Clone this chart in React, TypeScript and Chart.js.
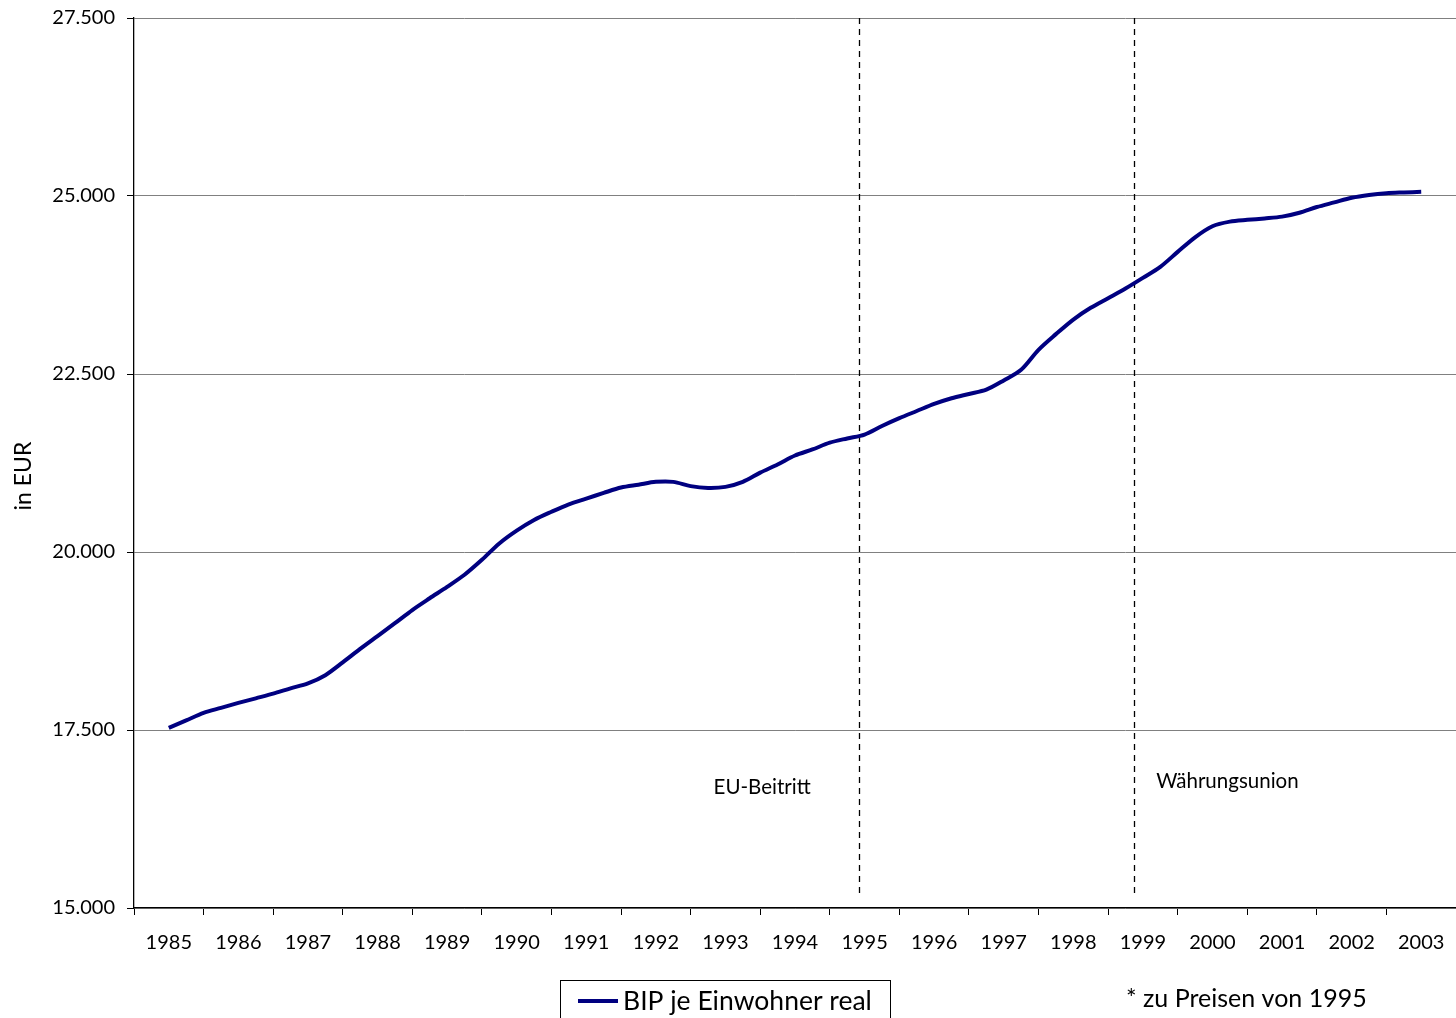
import React, { useEffect, useRef } from 'react';
import { Chart, registerables } from 'chart.js';

Chart.register(...registerables);

// ---- data ----
const years = ['1985', '1986', '1987', '1988', '1989', '1990', '1991', '1992', '1993', '1994',
  '1995', '1996', '1997', '1998', '1999', '2000', '2001', '2002', '2003'];

// quarterly readings from 1985 to 2003 (4 per year, starting at 1985)
const quarterlyValues = [
  17530, 17635, 17740, 17810, 17880, 17945, 18010, 18085, 18155, 18270,
  18450, 18640, 18820, 19000, 19185, 19350, 19510, 19680, 19890, 20120,
  20300, 20450, 20565, 20670, 20750, 20830, 20905, 20945, 20985, 20985,
  20925, 20900, 20915, 20985, 21115, 21230, 21355, 21440, 21535, 21595,
  21650, 21770, 21880, 21980, 22080, 22160, 22220, 22280, 22410, 22560,
  22840, 23060, 23265, 23430, 23565, 23700, 23850, 24005, 24215, 24420,
  24575, 24640, 24665, 24685, 24710, 24765, 24845, 24910, 24975, 25015,
  25040, 25050, 25058,
];
const pointsPerYear = 4;

const yMin = 15000;
const yMax = 27500;
const yStep = 2500;

const seriesLabel = 'BIP je Einwohner real';
const yTitle = 'in EUR';
const footnote = '* zu Preisen von 1995';

// events: position in year-index units (0 = 1985)
const eventLabels = ['EU-Beitritt', 'Währungsunion'];
const eventPositions = [9.915, 13.875];
const eventLabelValues = [16700, 16780];

const FONT = 'Lato, "Open Sans", sans-serif';
const NAVY = '#000080';

function fmt(v: number): string {
  const s = Math.round(v).toString();
  return s.replace(/\B(?=(\d{3})+(?!\d))/g, '.');
}

const decorPlugin = {
  id: 'decor',
  beforeDatasetsDraw(chart: any) {
    const ctx = chart.ctx;
    const xs = chart.scales.x2;
    const area = chart.chartArea;
    ctx.save();
    ctx.strokeStyle = '#000';
    ctx.lineWidth = 1.3;
    ctx.setLineDash([6, 5]);
    eventPositions.forEach((p) => {
      const x = Math.round(xs.getPixelForValue(p)) + 0.5;
      ctx.beginPath();
      ctx.moveTo(x, area.top);
      ctx.lineTo(x, area.bottom - 10);
      ctx.stroke();
    });
    ctx.restore();
  },
  afterDraw(chart: any) {
    const ctx = chart.ctx;
    const xs = chart.scales.x2;
    const ys = chart.scales.y;
    ctx.save();
    ctx.fillStyle = '#000';
    // event labels
    ctx.font = `20.5px ${FONT}`;
    ctx.textBaseline = 'middle';
    eventLabels.forEach((lbl, i) => {
      const x = xs.getPixelForValue(eventPositions[i]);
      const y = ys.getPixelForValue(eventLabelValues[i]);
      if (i === 0) {
        ctx.textAlign = 'right';
        ctx.fillText(lbl, x - 48, y);
      } else {
        ctx.textAlign = 'left';
        ctx.fillText(lbl, x + 22, y);
      }
    });
    // y title
    ctx.save();
    ctx.translate(24, 476);
    ctx.rotate(-Math.PI / 2);
    ctx.textAlign = 'center';
    ctx.textBaseline = 'middle';
    ctx.font = `23px ${FONT}`;
    ctx.fillText(yTitle, 0, 0);
    ctx.restore();
    // legend box
    ctx.strokeStyle = '#000';
    ctx.lineWidth = 1;
    ctx.setLineDash([]);
    ctx.strokeRect(560.5, 980.5, 330, 45);
    ctx.strokeStyle = NAVY;
    ctx.lineWidth = 4;
    ctx.beginPath();
    ctx.moveTo(578, 1001);
    ctx.lineTo(618, 1001);
    ctx.stroke();
    ctx.font = `26.5px ${FONT}`;
    ctx.textAlign = 'left';
    ctx.textBaseline = 'middle';
    ctx.fillText(seriesLabel, 623, 1001);
    // footnote
    ctx.font = `25px ${FONT}`;
    ctx.fillText(footnote, 1126, 999);
    ctx.restore();
  },
};

export default function App() {
  const ref = useRef<HTMLCanvasElement | null>(null);
  useEffect(() => {
    document.body.style.margin = '0';
    const canvas = ref.current;
    if (!canvas) return;
    const data = quarterlyValues.map((v, i) => ({ x: i / pointsPerYear, y: v }));
    const chart = new Chart(canvas, {
      type: 'line',
      data: {
        labels: years,
        datasets: [
          {
            label: seriesLabel,
            data,
            xAxisID: 'x2',
            yAxisID: 'y',
            borderColor: NAVY,
            backgroundColor: NAVY,
            borderWidth: 4,
            pointRadius: 0,
            tension: 0.3,
            fill: false,
          },
        ],
      },
      options: {
        responsive: false,
        animation: false,
        devicePixelRatio: 1,
        layout: { padding: { left: 0, top: 18, right: 0, bottom: 0 } },
        plugins: {
          legend: { display: false },
          tooltip: { enabled: false },
          title: { display: false },
        },
        scales: {
          x: {
            type: 'category',
            labels: years,
            offset: true,
            position: 'bottom',
            afterFit: (s: any) => {
              s.height = 110;
              s.paddingLeft = 0;
              s.paddingRight = 0;
            },
            border: { display: true, color: '#000', width: 1.3 },
            grid: {
              offset: true,
              drawOnChartArea: false,
              drawTicks: true,
              tickLength: 7,
              tickColor: '#000',
              color: '#000',
            },
            ticks: {
              color: '#000',
              font: { family: FONT, size: 20 },
              padding: 16,
              maxRotation: 0,
              autoSkip: false,
            },
          },
          x2: {
            type: 'linear',
            display: false,
            min: -0.5,
            max: years.length - 0.5,
          },
          y: {
            type: 'linear',
            min: yMin,
            max: yMax,
            afterFit: (s: any) => {
              s.width = 134;
              s.paddingTop = 0;
              s.paddingBottom = 0;
            },
            border: { display: true, color: '#000', width: 1.3 },
            grid: {
              color: '#808080',
              lineWidth: 1,
              drawTicks: true,
              tickLength: 7,
              tickColor: '#000',
            },
            ticks: {
              stepSize: yStep,
              color: '#000',
              font: { family: FONT, size: 20 },
              padding: 12,
              callback: (v: any) => fmt(Number(v)),
            },
          },
        },
      },
      plugins: [decorPlugin],
    });
    return () => chart.destroy();
  }, []);
  return (
    <div style={{ width: 1456, height: 1018, background: '#fff' }}>
      <canvas ref={ref} width={1456} height={1018} style={{ display: 'block', width: 1456, height: 1018 }} />
    </div>
  );
}
